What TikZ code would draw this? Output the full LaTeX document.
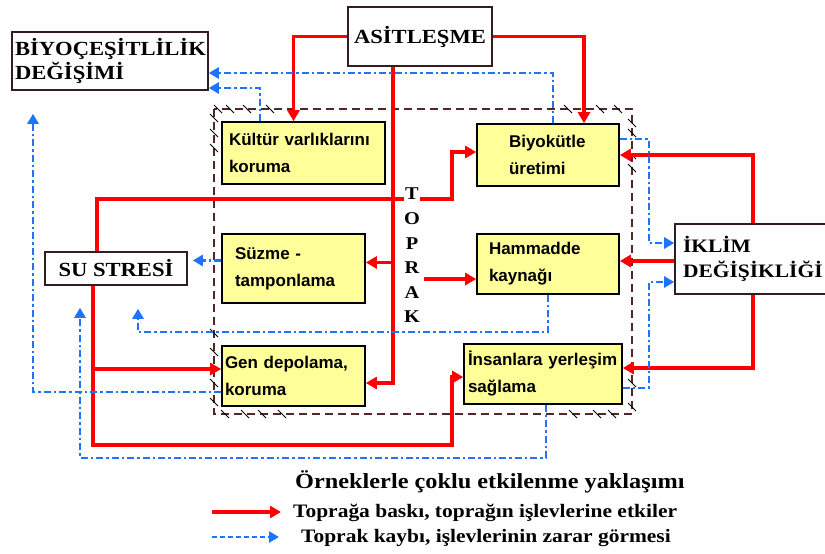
\documentclass[tikz,border=0pt]{standalone}
\usepackage{fontspec}
\newfontfamily\titlefont{Liberation Serif}[FakeStretch=1.13]
\newfontfamily\cellfont{Liberation Sans}
\usetikzlibrary{arrows.meta}
\definecolor{boxline}{RGB}{50,30,30}
\definecolor{cellyellow}{RGB}{255,255,153}
\definecolor{lossblue}{RGB}{30,115,255}
\definecolor{soilbrown}{RGB}{80,40,40}

\tikzset{
  impact/.style={draw=boxline, line width=1.6pt, fill=white,
    font=\titlefont\bfseries\fontsize{20}{24}\selectfont, inner sep=0pt},
  soilfn/.style={draw=black, line width=1.6pt, fill=cellyellow,
    font=\cellfont\bfseries\fontsize{17}{27}\selectfont, align=left, inner ysep=0pt},
  pressure/.style={draw=red, line width=3.5pt, -{Triangle[length=11pt,width=12pt]}},
  loss/.style={draw=lossblue, line width=2.8pt, dash pattern=on 7pt off 3pt on 2.5pt off 3pt,
    -{Triangle[length=10pt,width=11pt]}},
  hatch/.style={line width=0.8pt, black},
  soilletter/.style={font=\titlefont\bfseries\fontsize{18}{18}\selectfont, fill=white, inner sep=1pt},
  keytext/.style={anchor=base west, inner sep=0pt}
}

\begin{document}
\begin{tikzpicture}[x=1pt,y=-1pt]
  \useasboundingbox (0,0) rectangle (825,554);
  \clip (0,0) rectangle (825,554);

  % soil boundary
  \draw[soilbrown, line width=1.2pt, dash pattern=on 8pt off 5pt] (214,109) rectangle (632,414);
  % hatch ticks near the corners
  \foreach \p in {(218,109),(230,109),(247,109),(270,109),(214,118),(214,133),(214,148),
                  (214,333),(214,352),(214,383),(214,402),(225,414),(245,414),(262,414),(282,414),
                  (568,109),(600,109),(618,109),(632,123),(632,133),(632,155),(632,168),
                  (632,383),(632,407),(573,414),(597,414),(612,414)}
    \draw[hatch] \p ++(-4,-4) -- ++(8,8);

  % effects
  \node[impact, minimum width=144pt, minimum height=59pt] (asit) at (420,36.5) {ASİTLEŞME};
  \node[impact, text width=190pt, inner xsep=3pt, align=left, minimum height=58pt] (biyo) at (110,61) {BİYOÇEŞİTLİLİK\\DEĞİŞİMİ};
  \node[impact, minimum width=142pt, minimum height=33pt] (susu) at (116,268.5) {SU STRESİ};
  \node[impact, font=\titlefont\bfseries\fontsize{19}{25}\selectfont, text width=154pt, inner xsep=8pt, align=left, minimum height=70pt] (iklim) at (760,259) {İKLİM\\DEĞİŞİKLİĞİ};

  % soil functions
  \node[soilfn, text width=149pt, inner xsep=7pt, minimum height=62pt] (kultur) at (303.5,153) {Kültür varlıklarını\\koruma};
  \node[soilfn, text width=78pt, inner xsep=32pt, minimum height=62pt] (biyokutle) at (548,155) {Biyokütle\\üretimi};
  \node[soilfn, text width=117pt, inner xsep=13pt, minimum height=69pt] (suzme) at (293.5,268.5) {Süzme -\\tamponlama};
  \node[soilfn, text width=118pt, inner xsep=12pt, minimum height=60pt] (hammadde) at (548,264) {Hammadde\\kaynağı};
  \node[soilfn, text width=137pt, inner xsep=3pt, minimum height=60pt] (gen) at (293.5,376) {Gen depolama,\\koruma};
  \node[soilfn, text width=150pt, inner xsep=4pt, minimum height=60pt] (insan) at (543,374) {İnsanlara yerleşim\\sağlama};

  % pressures on the soil
  \coordinate (trunk) at ([xshift=-27pt]asit.south);
  \draw[pressure] (asit.west) -| ([xshift=-10pt]kultur.north);
  \draw[pressure] (asit.east) -| ([xshift=36pt]biyokutle.north);
  \draw[pressure] (trunk) |- ([yshift=-7pt]gen.east);
  \draw[pressure] ([yshift=6pt]trunk |- suzme.east) -- ([yshift=6pt]suzme.east);
  \draw[pressure] ([xshift=-19pt]susu.north) |- (452,199) |- ([yshift=3pt]biyokutle.west);
  \draw[pressure] ([xshift=-7pt]iklim.north) |- (biyokutle.east);
  \draw[pressure] ([yshift=-2pt]iklim.west) -- ([yshift=-2pt]iklim.west -| hammadde.east);
  \draw[pressure] ([xshift=-7pt]iklim.south) |- ([yshift=6pt]insan.east);
  \draw[pressure] ([xshift=-23pt]susu.south) |- ([yshift=7pt]gen.west);
  \draw[pressure] ([xshift=-23pt]susu.south) |- (452,445) |- ([yshift=-3pt]insan.west);
  \coordinate (soilsrc) at (424,279);
  \draw[pressure] (soilsrc) -- (soilsrc -| hammadde.west);

  % soil loss
  \draw[loss] ([xshift=5pt]biyokutle.north) |- ([yshift=-12pt]biyo.east);
  \draw[loss] ([xshift=-43.5pt]kultur.north) |- ([yshift=-27pt]biyo.east);
  \draw[loss, shorten >=5pt] ([yshift=8pt]suzme.west) -- ([yshift=8pt]suzme.west -| susu.east);
  \draw[loss, shorten >=23pt] (hammadde.south) |- (138,332) -| ([xshift=22pt]susu.south);
  \draw[loss, shorten >=22pt] ([xshift=3pt]insan.south) |- (80,458) -| ([xshift=-36pt]susu.south);
  \draw[loss, shorten >=23pt] ([yshift=-16pt]gen.west) -| ([xshift=-77pt]biyo.south);
  \draw[loss] ([yshift=16pt]biyokutle.east) -| (649,243) -- ([yshift=16pt]iklim.west);
  \draw[loss] ([yshift=-14pt]insan.east) -| (649,282) -- ([yshift=-23pt]iklim.west);

  % TOPRAK
  \foreach \l [count=\i] in {T,O,P,R,A,K}
    \node[soilletter] (soil\i) at (412,{194+24.6*(\i-1)}) {\l};

  % legend
  \coordinate (keyA) at (212,512);
  \coordinate (keyB) at (281,512);
  \coordinate (keyC) at (212,537);
  \coordinate (keyD) at (279,537);
  \draw[pressure] (keyA) -- (keyB);
  \draw[loss, dash pattern=on 5pt off 3pt] (keyC) -- (keyD);
  \node[keytext, font=\titlefont\bfseries\fontsize{21.5}{24}\selectfont] (keytitle) at (295,488) {Örneklerle çoklu etkilenme yaklaşımı};
  \node[keytext, font=\titlefont\bfseries\fontsize{19}{22}\selectfont] (keyred) at (293,517) {Toprağa baskı, toprağın işlevlerine etkiler};
  \node[keytext, font=\titlefont\bfseries\fontsize{19}{22}\selectfont] (keyblue) at (301,542) {Toprak kaybı, işlevlerinin zarar görmesi};
\end{tikzpicture}
\end{document}
